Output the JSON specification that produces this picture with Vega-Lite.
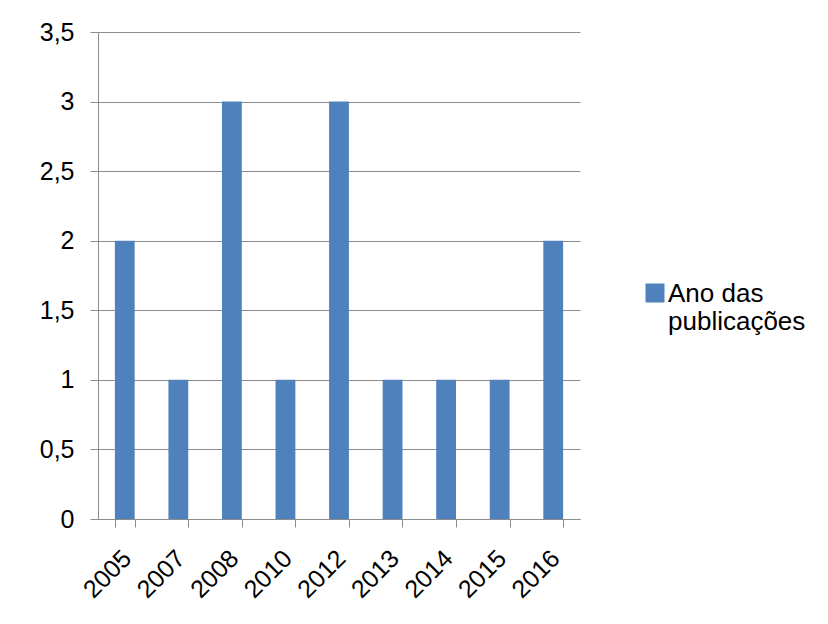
{
  "$schema": "https://vega.github.io/schema/vega-lite/v6.json",
  "autosize": "none",
  "width": 482,
  "height": 487,
  "padding": {"left": 98, "top": 32, "right": 248, "bottom": 105},
  "background": "white",
  "config": {
    "font": "Liberation Sans",
    "view": {"stroke": null}
  },
  "data": {
    "values": [
      {"ano": "2005", "valor": 2, "serie": "Ano das publicações"},
      {"ano": "2007", "valor": 1, "serie": "Ano das publicações"},
      {"ano": "2008", "valor": 3, "serie": "Ano das publicações"},
      {"ano": "2010", "valor": 1, "serie": "Ano das publicações"},
      {"ano": "2012", "valor": 3, "serie": "Ano das publicações"},
      {"ano": "2013", "valor": 1, "serie": "Ano das publicações"},
      {"ano": "2014", "valor": 1, "serie": "Ano das publicações"},
      {"ano": "2015", "valor": 1, "serie": "Ano das publicações"},
      {"ano": "2016", "valor": 2, "serie": "Ano das publicações"}
    ]
  },
  "mark": {"type": "bar"},
  "encoding": {
    "x": {
      "field": "ano",
      "type": "nominal",
      "sort": null,
      "scale": {"paddingInner": 0.63, "paddingOuter": 0.315},
      "axis": {
        "title": null,
        "labelAngle": -45,
        "labelAlign": "right",
        "labelBaseline": "middle",
        "labelFontSize": 25,
        "labelColor": "#000000",
        "labelPadding": 27,
        "labelOffset": 2,
        "tickBand": "extent",
        "tickSize": 8,
        "tickColor": "#8c8c8c",
        "domainColor": "#8c8c8c",
        "grid": false
      }
    },
    "y": {
      "field": "valor",
      "type": "quantitative",
      "scale": {"domain": [0, 3.5], "nice": false},
      "axis": {
        "title": null,
        "values": [0, 0.5, 1, 1.5, 2, 2.5, 3, 3.5],
        "labelExpr": "replace(toString(datum.value), '.', ',')",
        "labelFontSize": 25,
        "labelColor": "#000000",
        "labelPadding": 16,
        "tickSize": 8,
        "tickColor": "#8c8c8c",
        "domainColor": "#8c8c8c",
        "gridColor": "#8c8c8c",
        "grid": true
      }
    },
    "color": {
      "field": "serie",
      "type": "nominal",
      "scale": {"range": ["#4F81BD"]},
      "legend": {
        "title": null,
        "orient": "none",
        "legendX": 544,
        "legendY": 248,
        "symbolType": "square",
        "symbolSize": 361,
        "symbolStrokeWidth": 0,
        "labelFontSize": 26,
        "labelColor": "#000000",
        "labelLimit": 300,
        "labelBaseline": "alphabetic",
        "labelOffset": 0,
        "labelExpr": "['Ano das', 'publicações']",
        "labelLineHeight": 29,
        "encode": {"labels": {"update": {"dy": {"value": 9}}}}
      }
    }
  }
}
